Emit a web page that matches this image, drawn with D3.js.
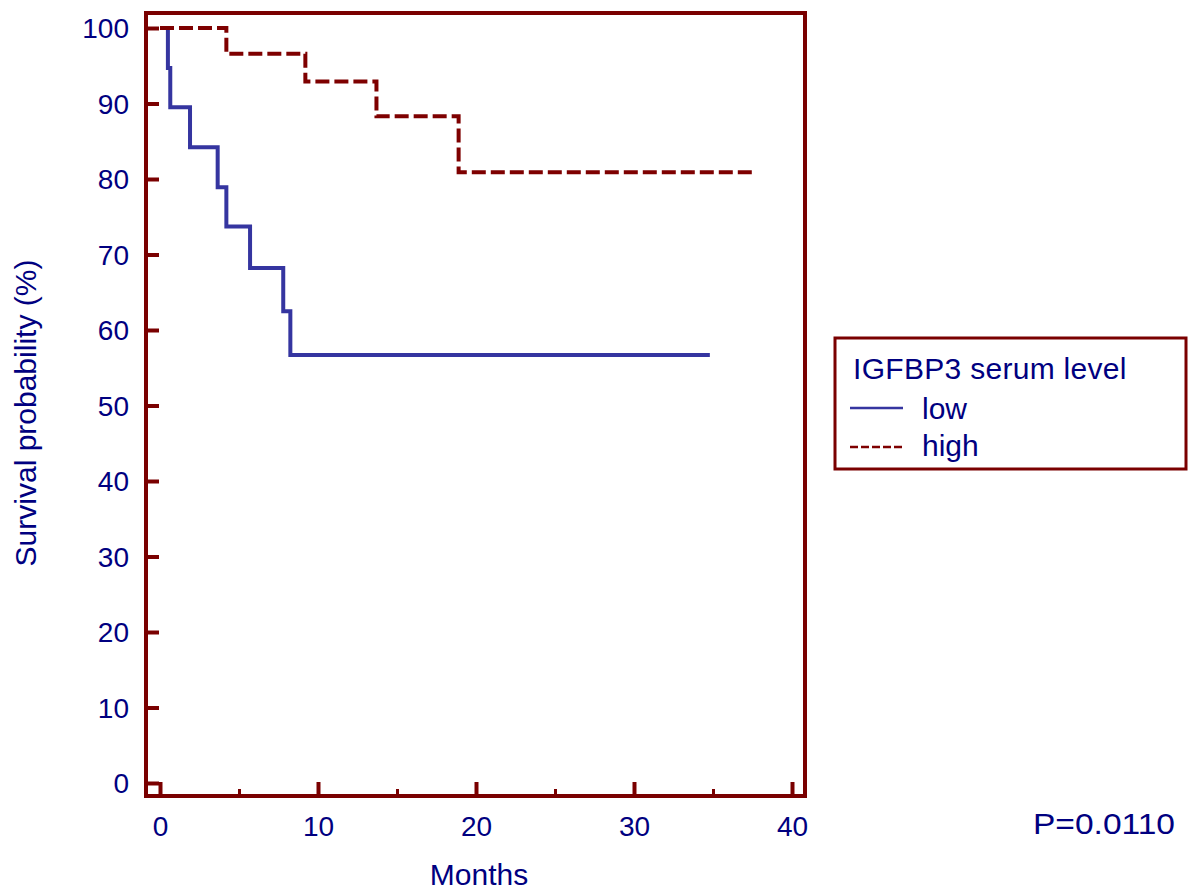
<!DOCTYPE html>
<html>
<head>
<meta charset="utf-8">
<script src="https://cdn.jsdelivr.net/npm/d3@7/dist/d3.min.js"></script>
<style>
  html, body { margin: 0; padding: 0; background: #ffffff; }
  svg text { font-family: "Liberation Sans", Arial, sans-serif; fill: #000080; }
</style>
</head>
<body>
<svg id="chart" width="1190" height="891"></svg>
<script>
// ---- data ----
const lowTime  = [0, 0.5, 0.65, 1.9, 3.65, 4.2, 5.7, 7.8, 8.25, 34.8];
const lowSurv  = [100, 94.7, 89.5, 84.2, 78.9, 73.7, 68.2, 62.5, 56.7, 56.7];
const highTime = [0, 4.2, 9.2, 13.7, 18.9, 37.7];
const highSurv = [100, 96.6, 92.9, 88.3, 80.9, 80.9];
const xTicks = [0, 10, 20, 30, 40];
const xMinorTicks = [5, 15, 25, 35];
const yTicks = [0, 10, 20, 30, 40, 50, 60, 70, 80, 90, 100];
const seriesNames = ["low", "high"];
const legendTitle = "IGFBP3 serum level";
const xTitle = "Months";
const yTitle = "Survival probability (%)";
const pText = "P=0.0110";

// ---- layout ----
const frameCol = "#7a0000";
const lowCol = "#3535a0";
const highCol = "#7e0000";
const svg = d3.select("#chart");

const x = d3.scaleLinear().domain([0, 40]).range([160, 792]);
const y = d3.scaleLinear().domain([0, 100]).range([783, 28]);

const fL = 146, fR = 805, fT = 13, fB = 796;

const line = d3.line().x(d => x(d[0])).y(d => y(d[1])).curve(d3.curveStepAfter);
const lowData = lowTime.map((t, i) => [t, lowSurv[i]]);
const highData = highTime.map((t, i) => [t, highSurv[i]]);

svg.append("path").datum(lowData).attr("d", line)
  .attr("fill", "none").attr("stroke", lowCol).attr("stroke-width", 4);
svg.append("path").datum(highData).attr("d", line)
  .attr("fill", "none").attr("stroke", highCol).attr("stroke-width", 4)
  .attr("stroke-dasharray", "14,5");

svg.append("rect").attr("x", fL).attr("y", fT).attr("width", fR - fL).attr("height", fB - fT)
  .attr("fill", "none").attr("stroke", frameCol).attr("stroke-width", 4);

const yAxis = d3.axisLeft(y).tickValues(yTicks).tickSize(-13).tickPadding(0);
const gy = svg.append("g").attr("transform", `translate(${fL},0)`).call(yAxis);
gy.select(".domain").remove();
gy.selectAll(".tick line").attr("stroke", frameCol).attr("stroke-width", 4);
gy.selectAll(".tick text").attr("x", -17).attr("dy", "0.35em")
  .attr("font-size", 28).attr("fill", "#000080")
  .attr("font-family", "Liberation Sans, Arial, sans-serif");

const xAxis = d3.axisBottom(x).tickValues(xTicks).tickSize(-14).tickPadding(0);
const gx = svg.append("g").attr("transform", `translate(0,${fB})`).call(xAxis);
gx.select(".domain").remove();
gx.selectAll(".tick line").attr("stroke", frameCol).attr("stroke-width", 4);
gx.selectAll(".tick text").attr("y", 40).attr("dy", 0)
  .attr("font-size", 28).attr("fill", "#000080")
  .attr("font-family", "Liberation Sans, Arial, sans-serif");

const xMinor = d3.axisBottom(x).tickValues(xMinorTicks).tickSize(-7).tickFormat("");
const gxm = svg.append("g").attr("transform", `translate(0,${fB})`).call(xMinor);
gxm.select(".domain").remove();
gxm.selectAll(".tick line").attr("stroke", frameCol).attr("stroke-width", 3);

svg.append("text").attr("x", x(20) + 3).attr("y", 885).attr("text-anchor", "middle")
  .attr("font-size", 30).text(xTitle);
svg.append("text").attr("transform", "translate(36,413) rotate(-90)")
  .attr("text-anchor", "middle").attr("font-size", 30).text(yTitle);

const lg = svg.append("g");
lg.append("rect").attr("x", 835).attr("y", 338).attr("width", 351).attr("height", 131)
  .attr("fill", "none").attr("stroke", frameCol).attr("stroke-width", 3);
lg.append("text").attr("x", 853).attr("y", 379).attr("font-size", 30)
  .attr("letter-spacing", 0.3).text(legendTitle);
lg.append("line").attr("x1", 850).attr("x2", 903).attr("y1", 408).attr("y2", 408)
  .attr("stroke", lowCol).attr("stroke-width", 2.5);
lg.append("line").attr("x1", 850).attr("x2", 903).attr("y1", 447).attr("y2", 447)
  .attr("stroke", highCol).attr("stroke-width", 2.5).attr("stroke-dasharray", "8,3");
lg.append("text").attr("x", 922).attr("y", 419).attr("font-size", 30).text(seriesNames[0]);
lg.append("text").attr("x", 922).attr("y", 456).attr("font-size", 30).text(seriesNames[1]);

svg.append("text").attr("x", 1033).attr("y", 834).attr("font-size", 30)
  .attr("textLength", 142).attr("lengthAdjust", "spacingAndGlyphs").text(pText);
</script>
</body>
</html>
